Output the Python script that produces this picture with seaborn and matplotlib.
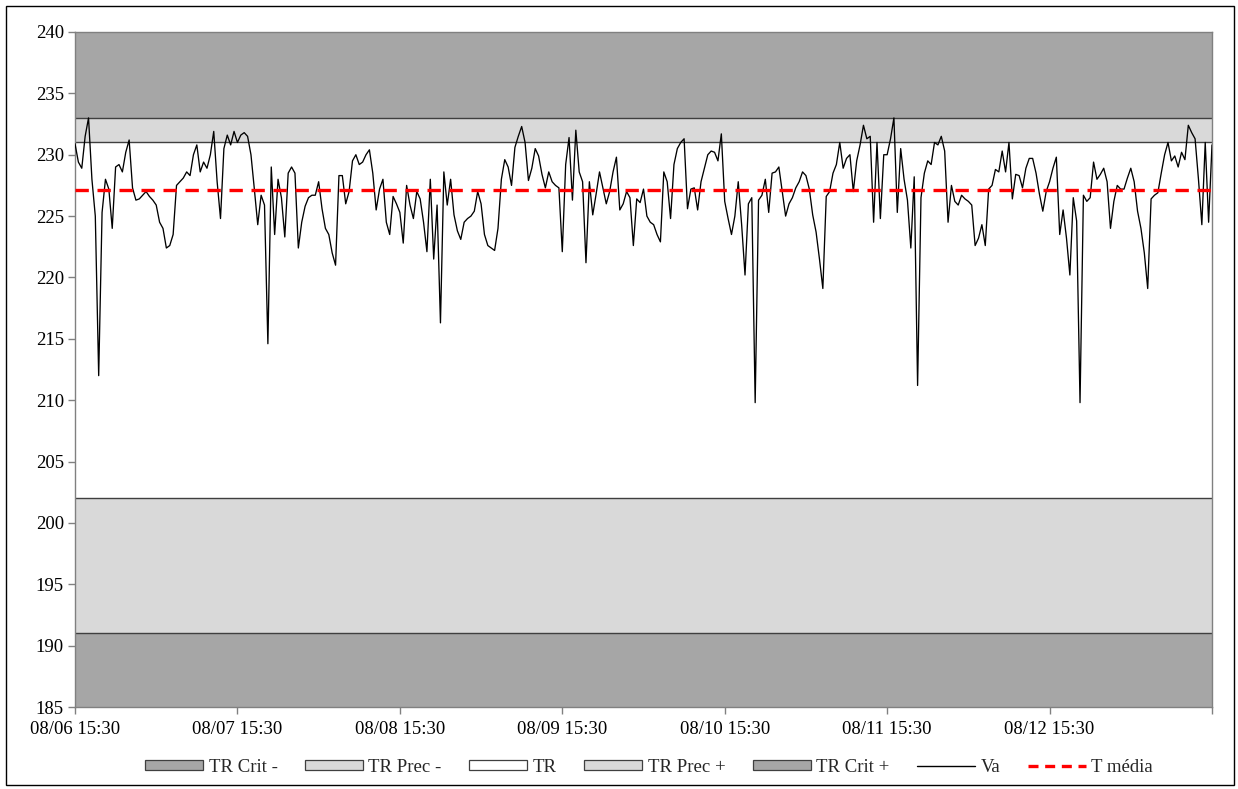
import numpy as np
import pandas as pd
import matplotlib
matplotlib.use("Agg")
import matplotlib.pyplot as plt
from matplotlib.patches import Patch, Rectangle
from matplotlib.lines import Line2D
import seaborn as sns

# Voltage readings (V), one value every 30 minutes, one list per day
va_day1 = [230.9, 229.4, 228.9, 231.5, 233.0, 228.0, 225.0, 212.0, 225.3, 228.0,
           227.2, 224.0, 229.0, 229.2, 228.6, 230.2, 231.2, 227.3, 226.3, 226.4,
           226.7, 227.0, 226.6, 226.3, 225.9, 224.5, 224.0, 222.4, 222.6, 223.5,
           227.5, 227.8, 228.1, 228.6, 228.3, 230.0, 230.8, 228.6, 229.4, 228.9,
           230.0, 231.9, 227.8, 224.8, 230.5, 231.6, 230.8, 231.9]
va_day2 = [231.0, 231.6, 231.8, 231.5, 230.0, 227.2, 224.3, 226.7, 225.9, 214.6,
           229.0, 223.5, 228.0, 226.5, 223.3, 228.5, 229.0, 228.5, 222.4, 224.5,
           225.8, 226.5, 226.7, 226.7, 227.8, 225.6, 224.0, 223.5, 222.0, 221.0,
           228.3, 228.3, 226.0, 227.0, 229.5, 230.0, 229.2, 229.4, 230.0, 230.4,
           228.5, 225.5, 227.2, 228.0, 224.5, 223.5, 226.6, 226.0]
va_day3 = [225.3, 222.8, 227.5, 225.9, 224.8, 227.0, 226.4, 224.5, 222.1, 228.0,
           221.5, 225.9, 216.3, 228.6, 225.9, 228.0, 225.1, 223.8, 223.1, 224.5,
           224.8, 225.0, 225.4, 227.0, 226.0, 223.5, 222.6, 222.4, 222.2, 224.0,
           228.0, 229.6, 229.0, 227.5, 230.6, 231.5, 232.3, 231.0, 227.9, 228.9,
           230.5, 229.9, 228.4, 227.3, 228.6, 227.8, 227.5, 227.3]
va_day4 = [222.1, 229.2, 231.4, 226.3, 232.0, 228.6, 227.8, 221.2, 227.8, 225.1,
           226.8, 228.6, 227.3, 226.0, 227.0, 228.6, 229.8, 225.5, 226.0, 227.0,
           226.5, 222.6, 226.4, 226.1, 227.2, 225.0, 224.5, 224.3, 223.5, 222.9,
           228.6, 227.8, 224.8, 229.2, 230.5, 231.0, 231.3, 225.6, 227.2, 227.3,
           225.5, 227.8, 228.9, 230.0, 230.3, 230.2, 229.5, 231.7]
va_day5 = [226.2, 224.8, 223.5, 225.0, 227.8, 224.3, 220.2, 226.0, 226.5, 209.8,
           226.3, 226.7, 228.0, 225.3, 228.5, 228.6, 229.0, 227.0, 225.0, 226.0,
           226.5, 227.3, 227.8, 228.6, 228.3, 227.2, 225.1, 223.7, 221.5, 219.1,
           226.6, 227.0, 228.5, 229.2, 231.0, 228.9, 229.7, 230.0, 227.0, 229.5,
           230.8, 232.4, 231.3, 231.5, 224.5, 231.0, 224.8, 230.0]
va_day6 = [230.0, 231.3, 233.0, 225.3, 230.5, 228.0, 226.3, 222.4, 228.2, 211.2,
           226.5, 228.5, 229.5, 229.2, 231.0, 230.8, 231.5, 230.3, 224.5, 227.5,
           226.2, 225.9, 226.7, 226.4, 226.2, 225.9, 222.6, 223.2, 224.3, 222.6,
           227.2, 227.5, 228.8, 228.6, 230.3, 228.6, 231.0, 226.4, 228.4, 228.3,
           227.3, 228.9, 229.7, 229.7, 228.5, 226.8, 225.4, 227.0]
va_day7 = [227.8, 228.9, 229.8, 223.5, 225.5, 223.2, 220.2, 226.5, 224.6, 209.8,
           226.7, 226.2, 226.5, 229.4, 228.0, 228.4, 228.9, 227.8, 224.0, 226.2,
           227.5, 227.2, 227.2, 228.1, 228.9, 227.8, 225.4, 224.0, 222.0, 219.1,
           226.4, 226.7, 226.9, 228.5, 230.0, 231.0, 229.5, 229.9, 229.0, 230.2,
           229.6, 232.4, 231.8, 231.3, 228.0, 224.3, 231.0, 224.5, 230.8]

va = va_day1 + va_day2 + va_day3 + va_day4 + va_day5 + va_day6 + va_day7
t_media = 227.1

# Voltage range limits (V)
crit_low, prec_low, prec_high, crit_high = 191, 202, 231, 233
y_min, y_max = 185, 240

band_labels = ["TR Crit -", "TR Prec -", "TR", "TR Prec +", "TR Crit +"]
band_edges = [y_min, crit_low, prec_low, prec_high, crit_high, y_max]
band_colors = ["#A6A6A6", "#D9D9D9", "#FFFFFF", "#D9D9D9", "#A6A6A6"]

start = pd.Timestamp("2012-08-06 15:30")
times = pd.date_range(start, periods=len(va), freq="30min")
df = pd.DataFrame({"time": times, "Va": va})

sns.set_theme(style="white")
plt.rcParams["font.family"] = ["Liberation Serif", "DejaVu Serif"]

fig = plt.figure(figsize=(12.38, 7.89), dpi=100)
ax = fig.add_axes([75 / 1238, 1 - 707 / 789, (1212 - 75) / 1238, (707 - 32) / 789])

x0, x1 = start, start + pd.Timedelta(days=7)
edge = "#3F3F3F"
for lo, hi, col in zip(band_edges[:-1], band_edges[1:], band_colors):
    ax.axhspan(lo, hi, facecolor=col, edgecolor="none", zorder=0)
for y in band_edges[1:-1]:
    ax.axhline(y, color=edge, lw=1.0, zorder=1)

sns.lineplot(data=df, x="time", y="Va", ax=ax, color="black", lw=0.95,
             zorder=3, legend=False)
ax.axhline(t_media, color="#FF0000", lw=2.4, ls=(0, (4, 2.6)), zorder=4)

ax.set_xlim(x0, x1)
ax.set_ylim(y_min, y_max)
ax.set_yticks(np.arange(y_min, y_max + 1, 5))
ticks = [start + pd.Timedelta(days=d) for d in range(8)]
ax.set_xticks(ticks)
ax.set_xticklabels([t.strftime("%m/%d %H:%M") for t in ticks[:-1]] + [""])
ax.set_xlabel("")
ax.set_ylabel("")
ax.tick_params(axis="both", which="both", direction="out", length=5, width=1,
               color="#808080", labelsize=13.5, labelcolor="black", pad=3,
               bottom=True, left=True)
ax.tick_params(axis="x", pad=5)
for s in ax.spines.values():
    s.set_color("#808080")
    s.set_linewidth(1.0)
ax.grid(False)

# Outer frame around the whole chart
fig.patches.append(Rectangle((6 / 1238, 4 / 789), 1228 / 1238, 779 / 789,
                             transform=fig.transFigure, fill=False,
                             edgecolor="black", lw=1.0))

handles = [Patch(facecolor=c, edgecolor=edge, lw=0.9) for c in band_colors]
handles += [Line2D([], [], color="black", lw=1.0),
            Line2D([], [], color="#FF0000", lw=2.4, ls=(0, (3, 2)))]
labels = band_labels + ["Va", "T média"]
fig.legend(handles, labels, loc="center", bbox_to_anchor=(649 / 1238, 1 - 767 / 789),
           ncol=7, frameon=False, fontsize=13.5, handlelength=3.1,
           handleheight=0.5, handletextpad=0.3, columnspacing=1.45)

fig.savefig("out.png", dpi=100)
